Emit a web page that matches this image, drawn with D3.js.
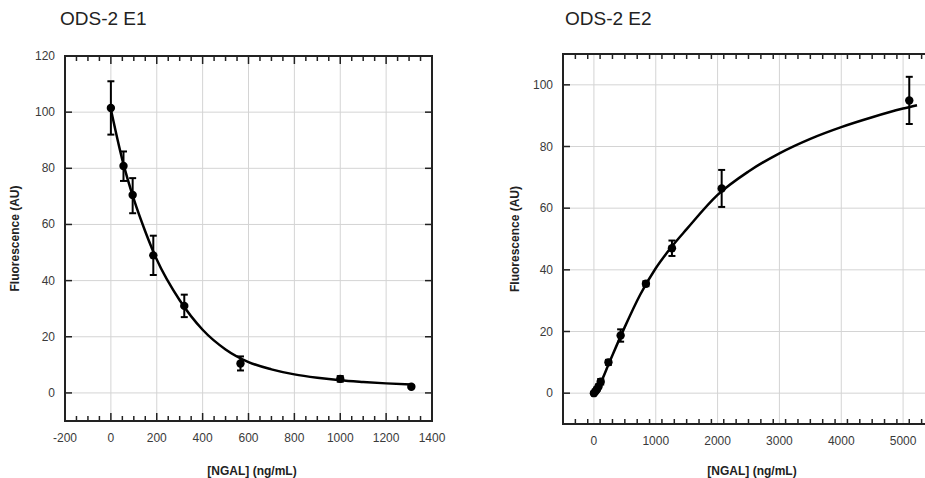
<!DOCTYPE html>
<html lang="en">
<head>
<meta charset="utf-8">
<title>ODS-2 E1 / E2 NGAL calibration</title>
<style>
* {
	font-family: "Liberation Sans", Arial, sans-serif;
}
body { margin: 0; background: #fff; }
</style>
<script src="https://cdnjs.cloudflare.com/ajax/libs/d3/7.8.5/d3.min.js"></script>
</head>
<body>
<script>
// E1 measurements: [NGAL] (ng/mL), fluorescence, error bar low/high
var e1Conc = [0, 55, 95, 185, 320, 565, 1000, 1310];
var e1Fluo = [101.5, 80.8, 70.5, 49, 31, 10.5, 5, 2.2];
var e1Low  = [92, 75.5, 64, 42, 27, 8, 4, 1.7];
var e1High = [111, 86, 76.5, 56, 35, 13, 6, 2.7];
// E1 fitted curve
var e1FitX = [0, 50, 100, 150, 200, 300, 400, 500, 600, 700, 800, 900, 1000, 1100, 1200, 1310];
var e1FitY = [101, 83, 69, 57.5, 47.5, 33, 22.5, 15.5, 11, 8.4, 6.6, 5.4, 4.5, 3.9, 3.4, 3.0];

// E2 measurements
var e2Conc = [0, 25, 50, 75, 110, 235, 432, 841, 1262, 2066, 5100];
var e2Fluo = [0, 0.6, 1.3, 2.2, 3.7, 10, 18.7, 35.5, 47, 66.4, 94.9];
var e2Low  = [-0.4, 0.2, 0.8, 1.6, 2.8, 9.2, 16.7, 34.7, 44.5, 60.4, 87.3];
var e2High = [0.4, 1.0, 1.8, 2.8, 4.6, 10.8, 20.7, 36.3, 49.5, 72.4, 102.6];
// E2 fitted curve
var e2FitX = [0, 100, 250, 500, 750, 1000, 1250, 1500, 2000, 2500, 3000, 3500, 4000, 4500, 5000, 5225];
var e2FitY = [0, 3, 10, 21.5, 32, 40.5, 47.3, 53.2, 64.3, 71.9, 77.8, 82.5, 86.3, 89.5, 92.3, 93.4];

// axis settings
var e1XTicks = [-200, 0, 200, 400, 600, 800, 1000, 1200, 1400];
var e1YTicks = [0, 20, 40, 60, 80, 100, 120];
var e2XTicks = [0, 1000, 2000, 3000, 4000, 5000];
var e2YTicks = [0, 20, 40, 60, 80, 100];

var svg = d3.select("body").append("svg")
	.attr("width", 925)
	.attr("height", 478);

function drawPanel(p) {
	var x = d3.scaleLinear().domain(p.xDomain).range([p.left, p.right]);
	var y = d3.scaleLinear().domain(p.yDomain).range([p.bottom, p.top]);
	var g = svg.append("g");

	// title
	g.append("text")
		.attr("x", p.titleX)
		.attr("y", 25)
		.style("font-size", "19px")
		.style("fill", "#222")
		.text(p.title);

	// grid
	g.selectAll(".gx").data(p.xTicks).enter().append("line")
		.attr("x1", function(d) { return x(d); })
		.attr("x2", function(d) { return x(d); })
		.attr("y1", p.top).attr("y2", p.bottom)
		.style("stroke", "#d4d4d4").style("stroke-width", "1px");
	g.selectAll(".gy").data(p.yTicks).enter().append("line")
		.attr("y1", function(d) { return y(d); })
		.attr("y2", function(d) { return y(d); })
		.attr("x1", p.left).attr("x2", p.right)
		.style("stroke", "#d4d4d4").style("stroke-width", "1px");

	// ticks, pointing inward on all four sides
	var minor = d3.range(p.xDomain[0], p.xDomain[1] + 1, p.minorStep);
	[p.top, p.bottom].forEach(function(edge, k) {
		var dir = k === 0 ? 1 : -1;
		g.selectAll(null).data(minor).enter().append("line")
			.attr("x1", function(d) { return x(d); })
			.attr("x2", function(d) { return x(d); })
			.attr("y1", edge)
			.attr("y2", function(d) { return edge + dir * (p.xTicks.indexOf(d) >= 0 ? 8 : 5); })
			.style("stroke", "#222").style("stroke-width", "1.5px");
	});
	[p.left, p.right].forEach(function(edge, k) {
		var dir = k === 0 ? 1 : -1;
		g.selectAll(null).data(p.yTicks).enter().append("line")
			.attr("y1", function(d) { return y(d); })
			.attr("y2", function(d) { return y(d); })
			.attr("x1", edge)
			.attr("x2", edge + dir * 7)
			.style("stroke", "#222").style("stroke-width", "1.5px");
	});

	// frame
	g.append("rect")
		.attr("x", p.left).attr("y", p.top)
		.attr("width", p.right - p.left).attr("height", p.bottom - p.top)
		.style("fill", "none").style("stroke", "#222").style("stroke-width", "2px");

	// tick labels
	g.selectAll(null).data(p.xTicks).enter().append("text")
		.attr("x", function(d) { return x(d); })
		.attr("y", p.bottom + 21)
		.attr("text-anchor", "middle")
		.style("font-size", "12px").style("fill", "#3a3a3a")
		.text(function(d) { return d; });
	g.selectAll(null).data(p.yTicks).enter().append("text")
		.attr("x", p.left - 10)
		.attr("y", function(d) { return y(d) + 4; })
		.attr("text-anchor", "end")
		.style("font-size", "12px").style("fill", "#3a3a3a")
		.text(function(d) { return d; });

	// axis titles
	g.append("text")
		.attr("x", p.xLabelX)
		.attr("y", 475)
		.attr("text-anchor", "middle")
		.style("font-size", "12px").style("font-weight", "bold").style("fill", "#222")
		.text("[NGAL] (ng/mL)");
	g.append("text")
		.attr("transform", "translate(" + p.yLabelX + "," + ((p.top + p.bottom) / 2) + ") rotate(-90)")
		.attr("text-anchor", "middle")
		.style("font-size", "12px").style("font-weight", "bold").style("fill", "#222")
		.text("Fluorescence (AU)");

	// fitted curve
	var line = d3.line()
		.x(function(d, i) { return x(p.fitX[i]); })
		.y(function(d) { return y(d); })
		.curve(d3.curveMonotoneX);
	g.append("path")
		.attr("d", line(p.fitY))
		.style("fill", "none").style("stroke", "#000").style("stroke-width", "2.5px");

	// error bars
	var bars = g.selectAll(null).data(p.conc).enter().append("g");
	bars.append("line")
		.attr("x1", function(d) { return x(d); })
		.attr("x2", function(d) { return x(d); })
		.attr("y1", function(d, i) { return y(p.low[i]); })
		.attr("y2", function(d, i) { return y(p.high[i]); })
		.style("stroke", "#000").style("stroke-width", "2px");
	[p.low, p.high].forEach(function(arr) {
		bars.append("line")
			.attr("x1", function(d) { return x(d) - 3.5; })
			.attr("x2", function(d) { return x(d) + 3.5; })
			.attr("y1", function(d, i) { return y(arr[i]); })
			.attr("y2", function(d, i) { return y(arr[i]); })
			.style("stroke", "#000").style("stroke-width", "2px");
	});

	// points
	g.selectAll(null).data(p.conc).enter().append("circle")
		.attr("cx", function(d) { return x(d); })
		.attr("cy", function(d, i) { return y(p.fluo[i]); })
		.attr("r", 4.2)
		.style("fill", "#000");
}

drawPanel({
	title: "ODS-2 E1", titleX: 60,
	left: 65, right: 432, top: 56, bottom: 421,
	xDomain: [-200, 1400], yDomain: [-10, 120], minorStep: 50,
	xTicks: e1XTicks, yTicks: e1YTicks,
	xLabelX: 252, yLabelX: 19,
	conc: e1Conc, fluo: e1Fluo, low: e1Low, high: e1High,
	fitX: e1FitX, fitY: e1FitY
});

drawPanel({
	title: "ODS-2 E2", titleX: 565,
	left: 563, right: 934, top: 54, bottom: 424,
	xDomain: [-500, 5500], yDomain: [-10, 110], minorStep: 200,
	xTicks: e2XTicks, yTicks: e2YTicks,
	xLabelX: 752, yLabelX: 519,
	conc: e2Conc, fluo: e2Fluo, low: e2Low, high: e2High,
	fitX: e2FitX, fitY: e2FitY
});
</script>
</body>
</html>
